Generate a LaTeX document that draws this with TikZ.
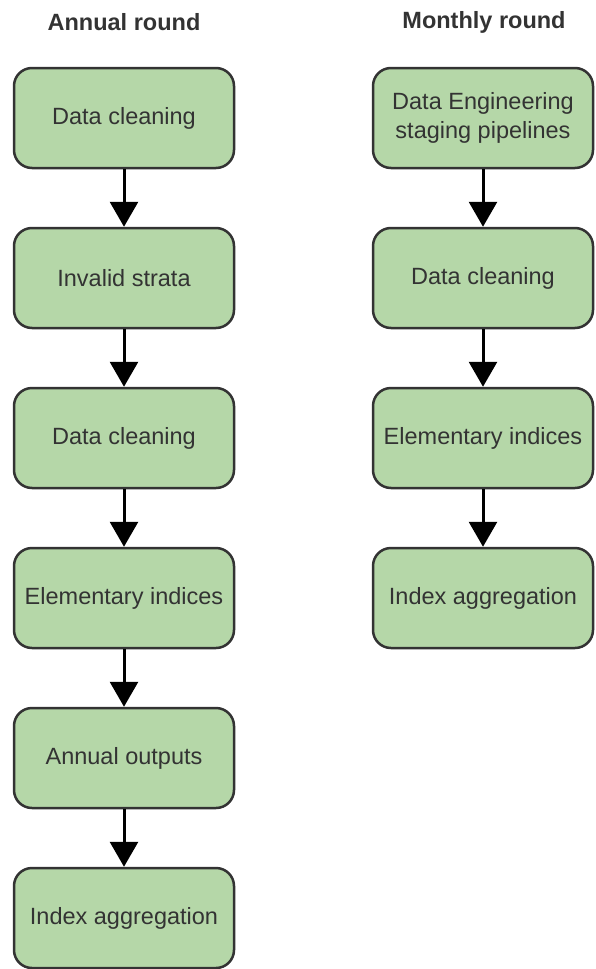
\documentclass[tikz,border=0pt]{standalone}
\usepackage{fontspec}
\setmainfont{Liberation Sans}
\usetikzlibrary{arrows.meta}
\definecolor{boxfill}{HTML}{B5D7A8}
\definecolor{boxline}{HTML}{333333}
\definecolor{txt}{HTML}{333333}
\tikzset{
  stepbox/.style={draw=boxline, fill=boxfill, line width=2.5pt, rounded corners=18pt,
    minimum width=220pt, minimum height=100pt, align=center, text=txt, inner sep=0pt,
    font=\fontsize{23.5}{29}\selectfont},
  heading/.style={text=txt, font=\fontsize{23.5}{29}\selectfont\bfseries},
  flow/.style={line width=3pt, black, -{Triangle[width=28pt,length=25pt]}}
}
\begin{document}
\begin{tikzpicture}[x=1pt,y=-1pt]
\path[use as bounding box] (0,0) rectangle (595,969);

% column headings
\node[heading] (ha) at (124,22) {Annual round};
\node[heading] (hm) at (484,22) {Monthly round};

% annual round
\node[stepbox] (a1) at (124,118) {Data cleaning};
\node[stepbox] (a2) at (124,278) {Invalid strata};
\node[stepbox] (a3) at (124,438) {Data cleaning};
\node[stepbox] (a4) at (124,598) {Elementary indices};
\node[stepbox] (a5) at (124,758) {Annual outputs};
\node[stepbox] (a6) at (124,918) {Index aggregation};

% monthly round
\node[stepbox] (m1) at (483,118) {Data Engineering\\staging pipelines};
\node[stepbox] (m2) at (483,278) {Data cleaning};
\node[stepbox] (m3) at (483,438) {Elementary indices};
\node[stepbox] (m4) at (483,598) {Index aggregation};

\draw[flow] (a1) -- (a2);
\draw[flow] (a2) -- (a3);
\draw[flow] (a3) -- (a4);
\draw[flow] (a4) -- (a5);
\draw[flow] (a5) -- (a6);

\draw[flow] (m1) -- (m2);
\draw[flow] (m2) -- (m3);
\draw[flow] (m3) -- (m4);
\end{tikzpicture}
\end{document}
